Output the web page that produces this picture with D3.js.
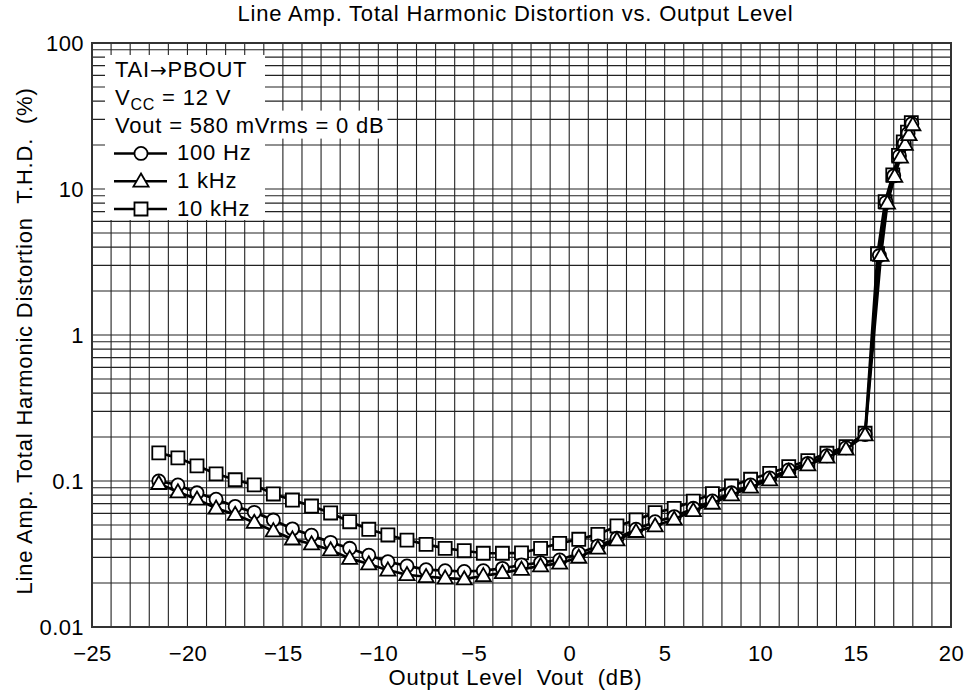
<!DOCTYPE html>
<html>
<head>
<meta charset="utf-8">
<script src="https://cdn.jsdelivr.net/npm/d3@7"></script>
<style>
  body { margin: 0; background: #fff; }
  svg { display: block; font-family: "Liberation Sans", Arial, sans-serif; }
  .grid line { stroke: #222; stroke-width: 1.1; }
  .tick text { font-size: 22px; fill: #000; letter-spacing: 0.4px; }
  .lbl { font-size: 22px; letter-spacing: 0.8px; }
</style>
</head>
<body>
<svg class="chart"></svg>
<script>
'use strict';

// output level (dB) shared by the three curves on the flat part
var levels = [-21.5, -20.5, -19.5, -18.5, -17.5, -16.5, -15.5, -14.5, -13.5, -12.5,
  -11.5, -10.5, -9.5, -8.5, -7.5, -6.5, -5.5, -4.5, -3.5, -2.5,
  -1.5, -0.5, 0.5, 1.5, 2.5, 3.5, 4.5, 5.5, 6.5, 7.5,
  8.5, 9.5, 10.5, 11.5, 12.5, 13.5, 14.5, 15.5];
// clipping region, a little different per curve
var clip100Hz = [16.25, 16.6, 17.0, 17.3, 17.55, 17.75, 17.95];
var clip1kHz = [16.33, 16.67, 17.05, 17.35, 17.6, 17.8, 18.0];
var clip10kHz = [16.15, 16.55, 16.95, 17.25, 17.5, 17.72, 17.92];

// T.H.D. (%)
var thd100Hz = [0.100, 0.094, 0.083, 0.075, 0.067, 0.061, 0.054, 0.047, 0.0425, 0.038,
  0.0346, 0.031, 0.028, 0.0262, 0.0247, 0.0243, 0.024, 0.0243, 0.0252, 0.0266,
  0.0276, 0.0288, 0.032, 0.0359, 0.0405, 0.0467, 0.0526, 0.057, 0.065, 0.073,
  0.083, 0.094, 0.105, 0.119, 0.132, 0.149, 0.169, 0.208,
  3.5, 8.1, 12.3, 16.8, 20.5, 24, 28];
var thd1kHz = [0.096, 0.084, 0.075, 0.065, 0.059, 0.052, 0.0455, 0.040, 0.037, 0.0337,
  0.0295, 0.027, 0.0245, 0.0228, 0.0221, 0.0216, 0.0213, 0.0224, 0.0235, 0.0248,
  0.0262, 0.0273, 0.030, 0.0346, 0.0394, 0.045, 0.0492, 0.0547, 0.0626, 0.0703,
  0.0802, 0.0905, 0.1016, 0.1158, 0.1288, 0.1453, 0.1648, 0.2065,
  3.5, 8.0, 12.2, 16.5, 20.2, 23.5, 27.5];
var thd10kHz = [0.156, 0.144, 0.127, 0.112, 0.102, 0.094, 0.0815, 0.0741, 0.0674, 0.0604,
  0.0526, 0.0467, 0.0427, 0.0394, 0.0368, 0.0346, 0.0333, 0.032, 0.032, 0.0322,
  0.0346, 0.0374, 0.0399, 0.0431, 0.0492, 0.0541, 0.0607, 0.065, 0.0727, 0.0818,
  0.0924, 0.1028, 0.1129, 0.1253, 0.1377, 0.1548, 0.1718, 0.2123,
  3.6, 8.2, 12.5, 17.0, 21.0, 24.5, 28.5];

var xTicks = [-25, -20, -15, -10, -5, 0, 5, 10, 15, 20];
var yTicks = [0.01, 0.1, 1, 10, 100];
var yTickLabels = ['0.01', '0.1', '1', '10', '100'];
var seriesNames = ['100 Hz', '1 kHz', '10 kHz'];

var totalW = 971, totalH = 698;
var margin = {top: 43, right: 20, bottom: 71, left: 92},
    width = totalW - margin.left - margin.right,
    height = totalH - margin.top - margin.bottom;

var svg = d3.select('.chart').attr('width', totalW).attr('height', totalH);
var chart = svg.append('g')
    .attr('transform', 'translate(' + margin.left + ',' + margin.top + ')');

var x = d3.scaleLinear().domain([-25, 20]).range([0, width]);
var y = d3.scaleLog().domain([0.01, 100]).range([height, 0]);

// grid: every dB vertically, 1..9 per decade horizontally
var grid = chart.append('g').attr('class', 'grid');
grid.selectAll('.v').data(d3.range(-24, 20)).enter().append('line')
    .attr('x1', function(d) { return x(d); }).attr('x2', function(d) { return x(d); })
    .attr('y1', 0).attr('y2', height);
var minor = [];
[0.01, 0.1, 1, 10].forEach(function(dec) {
    for (var k = 1; k <= 9; k++) if (!(k === 1 && dec === 0.01)) minor.push(dec * k);
});
grid.selectAll('.h').data(minor).enter().append('line')
    .attr('x1', 0).attr('x2', width)
    .attr('y1', function(d) { return y(d); }).attr('y2', function(d) { return y(d); });

// note / legend box (white background over the grid)
var legend = chart.append('g').attr('transform', 'translate(14,0)');
var rowH = 27.8, base0 = 34;
legend.append('rect').attr('x', -1).attr('y', 12).attr('width', 160).attr('height', 165).attr('fill', '#fff');
var wideRow = legend.append('rect').attr('fill', '#fff');

var t1 = legend.append('text').attr('class', 'lbl').attr('x', 9).attr('y', base0);
t1.append('tspan').text('TAI');
t1.append('tspan').style('font-family', '"DejaVu Sans"').style('font-size', '20px').text('\u2192');
t1.append('tspan').text('PBOUT');

var t2 = legend.append('text').attr('class', 'lbl').attr('x', 9).attr('y', base0 + rowH);
t2.append('tspan').text('V');
t2.append('tspan').attr('dy', 5).style('font-size', '16px').text('CC');
t2.append('tspan').attr('dy', -5).text(' = 12 V');

var t3 = legend.append('text').attr('class', 'lbl').attr('x', 9).attr('y', base0 + 2 * rowH)
    .text('Vout = 580 mVrms = 0 dB');
var bb = t3.node().getBBox();
wideRow.attr('x', -1).attr('y', bb.y - 2).attr('width', bb.x + bb.width + 4).attr('height', bb.height + 3);

var symbols = [d3.symbolCircle, d3.symbolTriangle, d3.symbolSquare];
var symSize = [135, 100, 170];
var symDy = [0, 1, 0];

var items = legend.selectAll('.item').data(seriesNames).enter().append('g')
    .attr('class', 'item')
    .attr('transform', function(d, i) { return 'translate(0,' + (base0 + (i + 3) * rowH) + ')'; });
items.append('line').attr('x1', 8).attr('x2', 61).attr('y1', -7).attr('y2', -7)
    .attr('stroke', '#000').attr('stroke-width', 2.5);
items.append('path')
    .attr('d', function(d, i) { return d3.symbol().type(symbols[i]).size(symSize[i])(); })
    .attr('transform', function(d, i) { return 'translate(35,' + (-7 + symDy[i]) + ')'; })
    .attr('fill', '#fff').attr('stroke', '#000').attr('stroke-width', 1.8);
items.append('text').attr('class', 'lbl').attr('x', 71).text(function(d) { return d; });

// axes
var xAxis = chart.append('g').attr('transform', 'translate(0,' + height + ')')
    .call(d3.axisBottom(x).tickValues(xTicks).tickSize(0).tickPadding(14));
xAxis.select('.domain').remove();
xAxis.selectAll('.tick text').attr('dy', '0.9em');

var yAxis = chart.append('g')
    .call(d3.axisLeft(y).tickValues(yTicks)
        .tickFormat(function(d, i) { return yTickLabels[i]; })
        .tickSize(0).tickPadding(8));
yAxis.select('.domain').remove();

chart.append('rect').attr('width', width).attr('height', height)
    .attr('fill', 'none').attr('stroke', '#333').attr('stroke-width', 2);

// curves: 10 kHz first, then 100 Hz, then 1 kHz on top
var series = [
    {values: thd10kHz, clip: clip10kHz, sym: 2},
    {values: thd100Hz, clip: clip100Hz, sym: 0},
    {values: thd1kHz, clip: clip1kHz, sym: 1}
];
var line = d3.line()
    .x(function(d) { return x(d[0]); })
    .y(function(d) { return y(d[1]); });

series.forEach(function(s) {
    var xs = levels.concat(s.clip);
    var pts = xs.map(function(l, i) { return [l, s.values[i]]; });
    var g = chart.append('g');
    g.append('path').datum(pts).attr('d', line)
        .attr('fill', 'none').attr('stroke', '#000').attr('stroke-width', 2.7);
    g.selectAll('path.mark').data(pts).enter().append('path')
        .attr('class', 'mark')
        .attr('d', d3.symbol().type(symbols[s.sym]).size(symSize[s.sym]))
        .attr('transform', function(d) { return 'translate(' + x(d[0]) + ',' + (y(d[1]) + symDy[s.sym]) + ')'; })
        .attr('fill', '#fff').attr('stroke', '#000').attr('stroke-width', 1.8);
});

// titles
svg.append('text').attr('class', 'lbl').attr('x', margin.left + width / 2 - 6).attr('y', 21)
    .attr('text-anchor', 'middle')
    .text('Line Amp. Total Harmonic Distortion vs. Output Level');
svg.append('text').attr('class', 'lbl').attr('x', margin.left + width / 2 - 6).attr('y', totalH - 13)
    .attr('text-anchor', 'middle')
    .attr('xml:space', 'preserve')
    .text('Output Level  Vout  (dB)');
svg.append('text').attr('class', 'lbl')
    .attr('transform', 'translate(32,' + (margin.top + height / 2 + 6) + ') rotate(-90)')
    .attr('text-anchor', 'middle')
    .attr('xml:space', 'preserve')
    .text('Line Amp. Total Harmonic Distortion  T.H.D.  (%)');
</script>
</body>
</html>
